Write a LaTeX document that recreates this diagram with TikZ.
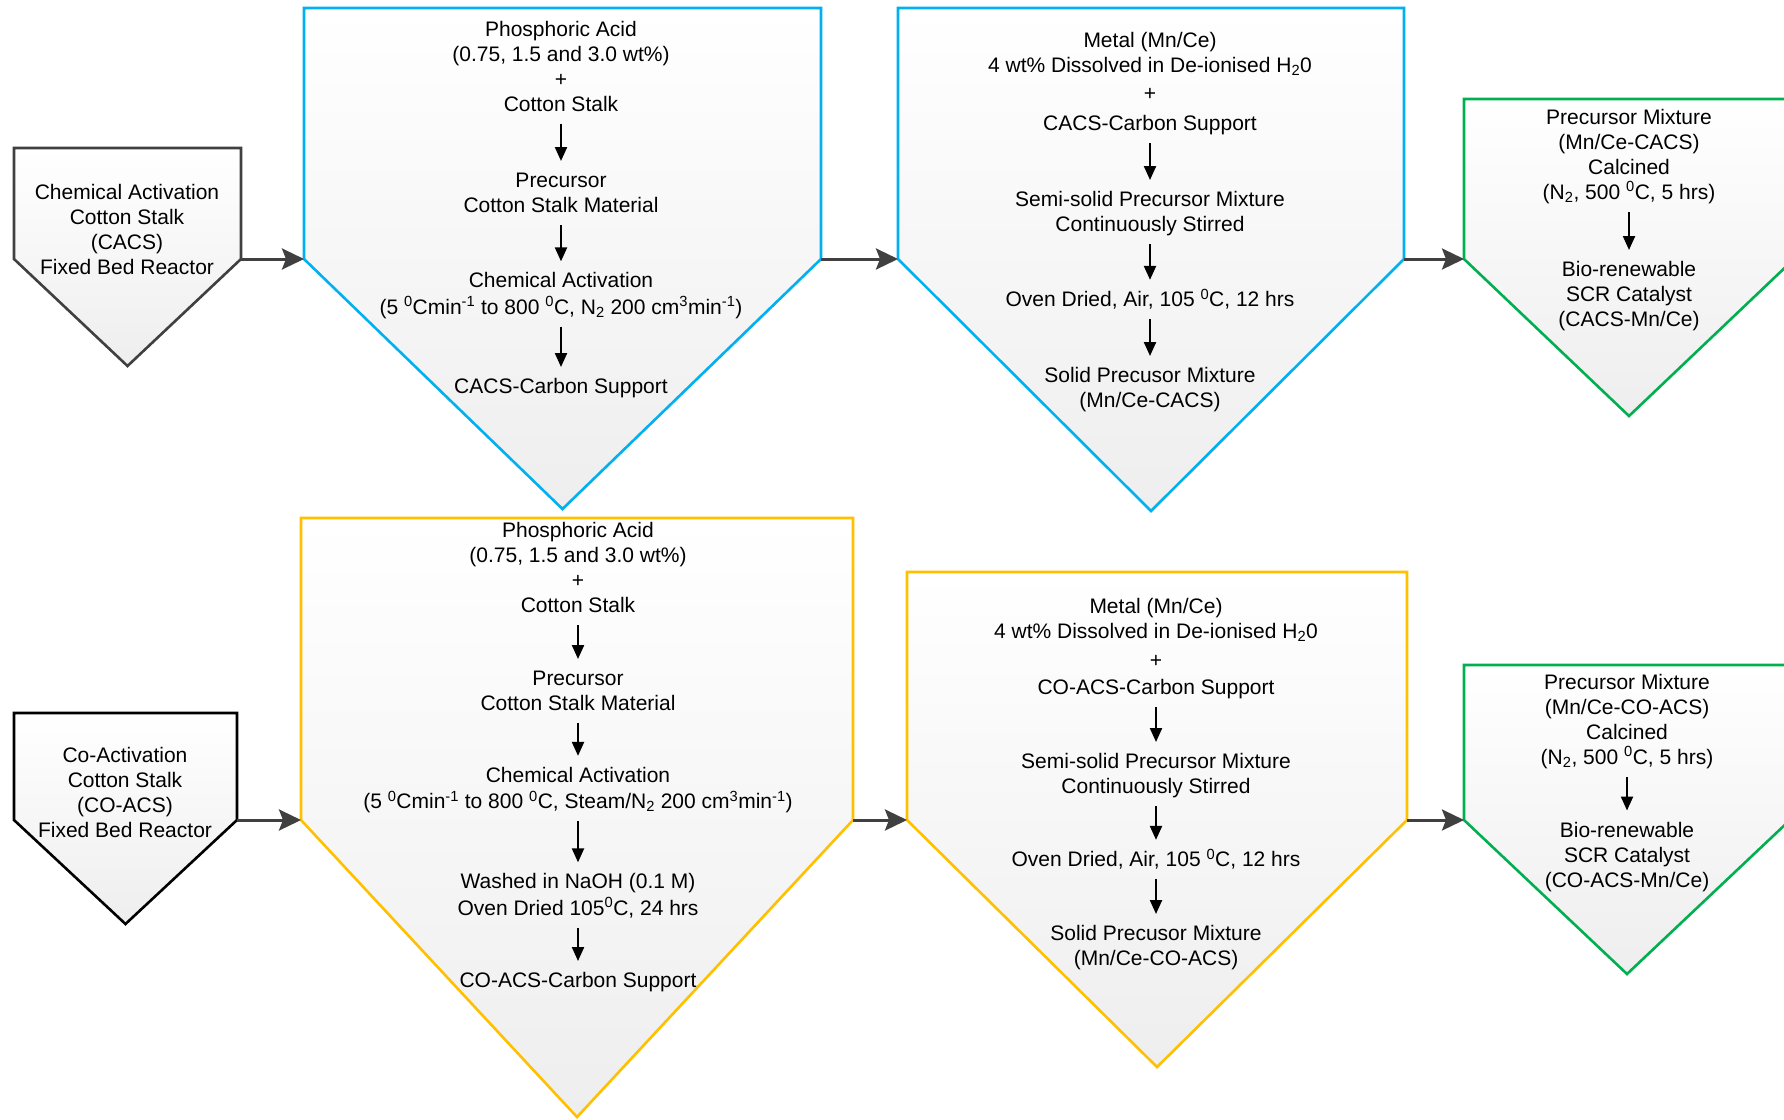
\documentclass[tikz,border=0pt]{standalone}
\usepackage{fontspec}
\setmainfont{Liberation Sans}
\usetikzlibrary{arrows.meta}
\definecolor{cblue}{HTML}{00B0F0}
\definecolor{cyel}{HTML}{FFC000}
\definecolor{cgreen}{HTML}{00B050}
\definecolor{cdark}{HTML}{404040}
\definecolor{cfill}{HTML}{EEEEEE}
% #1 name, #2 colour, #3 left, #4 top, #5 right, #6 shoulder y, #7 tip y
\newcommand\pentbox[7]{%
  \draw[pent, draw=#2] (#3,#4) -- (#5,#4) -- (#5,#6) -- ({(#3+#5)/2},#7) -- (#3,#6) -- cycle;
  \coordinate (#1-l) at (#3,#6);
  \coordinate (#1-r) at (#5,#6);}
\newcommand\dg{\textsuperscript{0}}
\newcommand\mone{\textsuperscript{-1}}
\begin{document}
\begin{tikzpicture}[x=1pt,y=-1pt,
  pent/.style={line width=2.6pt, top color=white, bottom color=cfill, line join=miter},
  txt/.style={font=\fontsize{21}{25}\selectfont, align=center, inner sep=0pt, outer sep=0pt},
  inarr/.style={draw=black, line width=2.2pt, -{Triangle[length=14pt,width=12pt]}, shorten <=5pt, shorten >=9pt},
  conn/.style={draw=cdark, line width=3pt, -{Stealth[length=22pt,width=21pt,inset=4pt]}}]
\fill[white] (0,0) rectangle (1784,1119);
\useasboundingbox (0,0) rectangle (1784,1119);
\clip (0,0) rectangle (1784,1119);

% ---------- top row ----------
\pentbox{p1}{cdark}{14}{148}{241}{259}{366}
\pentbox{p2}{cblue}{304}{8}{821}{259}{509}
\pentbox{p3}{cblue}{898}{8}{1404}{259}{511}
\pentbox{p4}{cgreen}{1464}{99}{1794}{259}{416}

\node[txt] (b1) at (127,232) {\strut Chemical Activation\\Cotton Stalk\\(CACS)\\Fixed Bed Reactor\strut};

\node[txt] (b2a) at (561,68.5) {\strut Phosphoric Acid\\(0.75, 1.5 and 3.0 wt\%)\\+\\Cotton Stalk\strut};
\node[txt] (b2b) at (561,195) {\strut Precursor\\Cotton Stalk Material\strut};
\node[txt] (b2c) at (561,296) {\strut Chemical Activation\\(5 \dg Cmin\mone{} to 800 \dg C, N\textsubscript{2} 200 cm\textsuperscript{3}min\mone)\strut};
\node[txt] (b2d) at (561,388.5) {\strut CACS-Carbon Support\strut};
\draw[inarr] (b2a.south) -- (b2b.north);
\draw[inarr] (b2b.south) -- (b2c.north);
\draw[inarr] (b2c.south) -- (b2d.north);

\node[txt] (b3a) at (1150,54.5) {\strut Metal (Mn/Ce)\\4 wt\% Dissolved in De-ionised H\textsubscript{2}0\strut};
\node[txt] (b3p) at (1150,95.5) {\strut +\strut};
\node[txt] (b3b) at (1150,125.5) {\strut CACS-Carbon Support\strut};
\node[txt] (b3c) at (1150,214) {\strut Semi-solid Precursor Mixture\\Continuously Stirred\strut};
\node[txt] (b3d) at (1150,301.5) {\strut Oven Dried, Air, 105 \dg C, 12 hrs\strut};
\node[txt] (b3e) at (1150,390) {\strut Solid Precusor Mixture\\(Mn/Ce-CACS)\strut};
\draw[inarr] (b3b.south) -- (b3c.north);
\draw[inarr] (b3c.south) -- (b3d.north);
\draw[inarr] (b3d.south) -- (b3e.north);

\node[txt] (b4a) at (1629,157) {\strut Precursor Mixture\\(Mn/Ce-CACS)\\Calcined\\(N\textsubscript{2}, 500 \dg C, 5 hrs)\strut};
\node[txt] (b4b) at (1629,296.5) {\strut Bio-renewable\\SCR Catalyst\\(CACS-Mn/Ce)\strut};
\draw[inarr] (b4a.south) -- (b4b.north);

\draw[conn] (p1-r) -- (p2-l);
\draw[conn] (p2-r) -- (p3-l);
\draw[conn] (p3-r) -- (p4-l);

% ---------- bottom row ----------
\pentbox{p5}{black}{14}{713}{237}{820}{924}
\pentbox{p6}{cyel}{301}{518}{853}{820}{1117}
\pentbox{p7}{cyel}{907}{572}{1407}{820}{1067}
\pentbox{p8}{cgreen}{1464}{665}{1790}{820}{974}

\node[txt] (b5) at (125,795) {\strut Co-Activation\\Cotton Stalk\\(CO-ACS)\\Fixed Bed Reactor\strut};

\node[txt] (b6a) at (578,570) {\strut Phosphoric Acid\\(0.75, 1.5 and 3.0 wt\%)\\+\\Cotton Stalk\strut};
\node[txt] (b6b) at (578,693) {\strut Precursor\\Cotton Stalk Material\strut};
\node[txt] (b6c) at (578,790.5) {\strut Chemical Activation\\(5 \dg Cmin\mone{} to 800 \dg C, Steam/N\textsubscript{2} 200 cm\textsuperscript{3}min\mone)\strut};
\node[txt] (b6d) at (578,897) {\strut Washed in NaOH (0.1 M)\\Oven Dried 105\dg C, 24 hrs\strut};
\node[txt] (b6e) at (578,982.5) {\strut CO-ACS-Carbon Support\strut};
\draw[inarr] (b6a.south) -- (b6b.north);
\draw[inarr] (b6b.south) -- (b6c.north);
\draw[inarr] (b6c.south) -- (b6d.north);
\draw[inarr] (b6d.south) -- (b6e.north);

\node[txt] (b7a) at (1156,620.5) {\strut Metal (Mn/Ce)\\4 wt\% Dissolved in De-ionised H\textsubscript{2}0\strut};
\node[txt] (b7p) at (1156,662.5) {\strut +\strut};
\node[txt] (b7b) at (1156,689.5) {\strut CO-ACS-Carbon Support\strut};
\node[txt] (b7c) at (1156,776) {\strut Semi-solid Precursor Mixture\\Continuously Stirred\strut};
\node[txt] (b7d) at (1156,861.5) {\strut Oven Dried, Air, 105 \dg C, 12 hrs\strut};
\node[txt] (b7e) at (1156,948) {\strut Solid Precusor Mixture\\(Mn/Ce-CO-ACS)\strut};
\draw[inarr] (b7b.south) -- (b7c.north);
\draw[inarr] (b7c.south) -- (b7d.north);
\draw[inarr] (b7d.south) -- (b7e.north);

\node[txt] (b8a) at (1627,722) {\strut Precursor Mixture\\(Mn/Ce-CO-ACS)\\Calcined\\(N\textsubscript{2}, 500 \dg C, 5 hrs)\strut};
\node[txt] (b8b) at (1627,857) {\strut Bio-renewable\\SCR Catalyst\\(CO-ACS-Mn/Ce)\strut};
\draw[inarr] (b8a.south) -- (b8b.north);

\draw[conn] (p5-r) -- (p6-l);
\draw[conn] (p6-r) -- (p7-l);
\draw[conn] (p7-r) -- (p8-l);
\end{tikzpicture}
\end{document}
